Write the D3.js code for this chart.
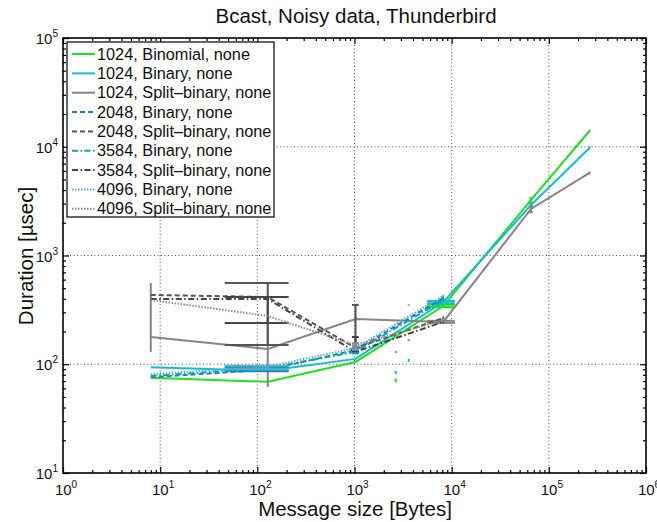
<!DOCTYPE html>
<html>
<head>
<meta charset="utf-8">
<script src="https://d3js.org/d3.v7.min.js"></script>
<style>
  body { margin: 0; background: #fff; }
  text { font-family: "Liberation Sans", Arial, Helvetica, sans-serif; fill: #111; }
</style>
</head>
<body>
<svg id="chart" width="657" height="522"></svg>
<script>
// message sizes (bytes)
var sizesLong = [8, 128, 1024, 8192, 65536, 262144];
var sizesShort = [8, 128, 1024, 8192];

// mean durations (usec)
var binomial1024 = [75, 69, 105, 343, 3240, 13960];
var binary1024 = [94, 87, 112, 373, 2910, 9750];
var split1024 = [178, 138, 261, 245, 2680, 5740];
var binary2048 = [76, 89, 135, 406];
var split2048 = [434, 415, 141, 266];
var binary3584 = [78, 92, 130, 390];
var split3584 = [398, 398, 130, 245];
var binary4096 = [81, 95, 141, 425];
var split4096 = [390, 278, 150, 254];

// error ranges [low, high], null = none
var binomial1024Err = [null, null, null, [335, 352], [3120, 3360], [13700, 14200]];
var binary1024Err = [null, null, null, [364, 382], [2840, 2990], [9600, 9900]];
var split1024Err = [[130, 558], [62, 232], [250, 275], [240, 251], [2500, 2850], [5650, 5850]];
var binary2048Err = [null, [86, 95], [128, 142], [398, 414]];
var split2048Err = [null, [150, 558], [130, 351], [258, 272]];
var binary3584Err = [null, [88, 93], [126, 134], [384, 396]];
var split3584Err = [null, [239, 415], [132, 178], [240, 250]];
var binary4096Err = [null, [90, 97], [136, 146], [418, 432]];
var split4096Err = [null, null, [145, 156], [248, 260]];

// stray measurements
var strayX = [2655, 2655, 3612, 2655, 3612, 3612];
var strayLo = [68, 81, 105, 127, 163, 345];
var strayHi = [74, 87, 112, 133, 170, 356];
var strayColor = ["#1fe01f", "#15bccc", "#15bccc", "#888888", "#888888", "#888888"];

var legendLabels = [
  "1024, Binomial, none", "1024, Binary, none", "1024, Split\u2013binary, none",
  "2048, Binary, none", "2048, Split\u2013binary, none",
  "3584, Binary, none", "3584, Split\u2013binary, none",
  "4096, Binary, none", "4096, Split\u2013binary, none"
];

var series = [
  { x: sizesLong, y: binomial1024, err: binomial1024Err, color: "#1fe01f", dash: null },
  { x: sizesLong, y: binary1024, err: binary1024Err, color: "#15bccc", dash: null },
  { x: sizesLong, y: split1024, err: split1024Err, color: "#858585", dash: null },
  { x: sizesShort, y: binary2048, err: binary2048Err, color: "#1b7fc4", dash: "5,3" },
  { x: sizesShort, y: split2048, err: split2048Err, color: "#555555", dash: "5,3" },
  { x: sizesShort, y: binary3584, err: binary3584Err, color: "#0aa5a5", dash: "6,2.5,1.5,2.5" },
  { x: sizesShort, y: split3584, err: split3584Err, color: "#444444", dash: "6,2.5,1.5,2.5" },
  { x: sizesShort, y: binary4096, err: binary4096Err, color: "#5aaad6", dash: "1.5,1.5" },
  { x: sizesShort, y: split4096, err: split4096Err, color: "#8a8a8a", dash: "1.5,1.5" }
];

var pLeft = 63, pRight = 646, pTop = 38, pBottom = 473;
var svg = d3.select("#chart");

var x = d3.scaleLog().domain([1, 1e6]).range([pLeft, pRight]);
var y = d3.scaleLog().domain([10, 1e5]).range([pBottom, pTop]);

var xMajor = d3.range(0, 7).map(function(k) { return Math.pow(10, k); });
var yMajor = d3.range(1, 6).map(function(k) { return Math.pow(10, k); });
function minors(lo, hi) {
  var out = [];
  for (var k = lo; k < hi; k++)
    for (var m = 2; m <= 9; m++) out.push(m * Math.pow(10, k));
  return out;
}
var xMinor = minors(0, 6);
var yMinor = minors(1, 5);

// grid
var grid = svg.append("g").attr("stroke", "#444").attr("stroke-width", 0.9).attr("stroke-dasharray", "1,2.5");
xMajor.slice(1, -1).forEach(function(v) {
  grid.append("line").attr("x1", x(v)).attr("x2", x(v)).attr("y1", pTop).attr("y2", pBottom);
});
yMajor.slice(1, -1).forEach(function(v) {
  grid.append("line").attr("x1", pLeft).attr("x2", pRight).attr("y1", y(v)).attr("y2", y(v));
});

// series
var plot = svg.append("g");
var line = d3.line();
series.forEach(function(s) {
  var pts = s.x.map(function(v, i) { return [x(v), y(s.y[i])]; });
  var path = plot.append("path")
    .attr("d", line(pts))
    .attr("fill", "none")
    .attr("stroke", s.color)
    .attr("stroke-width", 2);
  if (s.dash) path.attr("stroke-dasharray", s.dash);

  // errorbars, caps in linear units like matlab
  var capW = (d3.max(s.x) - d3.min(s.x)) / 100;
  s.err.forEach(function(e, i) {
    if (!e) return;
    var xv = s.x[i];
    var g = plot.append("g").attr("stroke", s.color).attr("stroke-width", 2);
    g.append("line").attr("x1", x(xv)).attr("x2", x(xv)).attr("y1", y(e[0])).attr("y2", y(e[1]));
    if (xv - capW > 0) {
      e.forEach(function(v) {
        g.append("line").attr("x1", x(xv - capW)).attr("x2", x(xv + capW))
          .attr("y1", y(v)).attr("y2", y(v));
      });
    }
  });
});

strayX.forEach(function(v, i) {
  plot.append("line").attr("x1", x(v)).attr("x2", x(v))
    .attr("y1", y(strayLo[i])).attr("y2", y(strayHi[i]))
    .attr("stroke", strayColor[i]).attr("stroke-width", 2);
});

// axes with inward ticks on all four sides
function tickAxis(axis, vals, size, tr) {
  svg.append("g").attr("transform", tr)
    .call(axis.tickValues(vals).tickSize(size).tickFormat(""))
    .call(function(g) { g.select(".domain").remove(); g.selectAll("line").attr("stroke", "#000").attr("stroke-width", 1.2); });
}
tickAxis(d3.axisBottom(x), xMajor, -6, "translate(0," + pBottom + ")");
tickAxis(d3.axisBottom(x), xMinor, -3, "translate(0," + pBottom + ")");
tickAxis(d3.axisTop(x), xMajor, -6, "translate(0," + pTop + ")");
tickAxis(d3.axisTop(x), xMinor, -3, "translate(0," + pTop + ")");
tickAxis(d3.axisLeft(y), yMajor, -6, "translate(" + pLeft + ",0)");
tickAxis(d3.axisLeft(y), yMinor, -3, "translate(" + pLeft + ",0)");
tickAxis(d3.axisRight(y), yMajor, -6, "translate(" + pRight + ",0)");
tickAxis(d3.axisRight(y), yMinor, -3, "translate(" + pRight + ",0)");

svg.append("rect").attr("x", pLeft).attr("y", pTop)
  .attr("width", pRight - pLeft).attr("height", pBottom - pTop)
  .attr("fill", "none").attr("stroke", "#000").attr("stroke-width", 1.6);

// tick labels
xMajor.forEach(function(v, k) {
  var t = svg.append("text").attr("x", x(v) + 3).attr("y", pBottom + 22)
    .attr("text-anchor", "middle").attr("font-size", 15);
  t.append("tspan").text("10");
  t.append("tspan").attr("dy", -7).attr("font-size", 10).text(k);
});
yMajor.forEach(function(v, k) {
  var t = svg.append("text").attr("x", pLeft - 5).attr("y", y(v) + 6)
    .attr("text-anchor", "end").attr("font-size", 15);
  t.append("tspan").text("10");
  t.append("tspan").attr("dy", -7).attr("font-size", 10).text(k + 1);
});

// titles
svg.append("text").attr("x", 356).attr("y", 23).attr("text-anchor", "middle")
  .attr("font-size", 20.5).text("Bcast, Noisy data, Thunderbird");
svg.append("text").attr("x", 355).attr("y", 516).attr("text-anchor", "middle")
  .attr("font-size", 20.5).text("Message size [Bytes]");
svg.append("text").attr("transform", "translate(33,256) rotate(-90)").attr("text-anchor", "middle")
  .attr("font-size", 20.5).text("Duration [\u00b5sec]");

// legend
var lg = svg.append("g");
lg.append("rect").attr("x", 67).attr("y", 42).attr("width", 207).attr("height", 175)
  .attr("fill", "#fff").attr("stroke", "#000").attr("stroke-width", 1.2);
series.forEach(function(s, i) {
  var yy = 54 + i * 19.35;
  var l = lg.append("line").attr("x1", 72).attr("x2", 95).attr("y1", yy).attr("y2", yy)
    .attr("stroke", s.color).attr("stroke-width", 2);
  if (s.dash) l.attr("stroke-dasharray", s.dash);
  lg.append("text").attr("x", 97).attr("y", yy + 5.5).attr("font-size", 16.3).text(legendLabels[i]);
});
</script>
</body>
</html>
